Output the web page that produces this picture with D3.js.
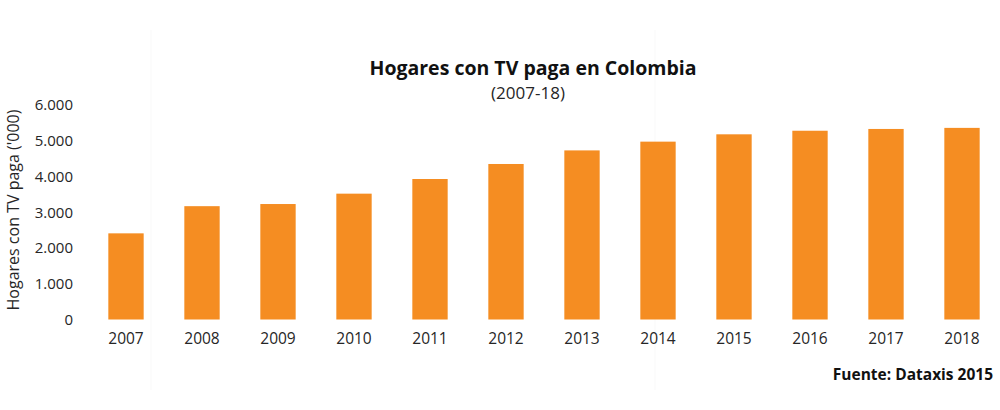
<!DOCTYPE html>
<html>
<head>
    <meta charset="utf-8">
    <style>
        body { margin: 0; background: #fff; }
        svg { display: block; }
        .tick text { fill: #262626; }
    </style>
    <script src="https://d3js.org/d3.v7.min.js"></script>
</head>
<body>
<svg width="1000" height="410"></svg>
<script>
    // data
    const years = ["2007", "2008", "2009", "2010", "2011", "2012", "2013", "2014", "2015", "2016", "2017", "2018"]
    const hogares = [2410, 3170, 3230, 3520, 3930, 4350, 4730, 4975, 5180, 5280, 5330, 5360]
    const yTicks = [0, 1000, 2000, 3000, 4000, 5000, 6000]

    const title = "Hogares con TV paga en Colombia"
    const subtitle = "(2007-18)"
    const yLabel = "Hogares con TV paga ('000)"
    const source = "Fuente: Dataxis 2015"

    let svg = d3.select("svg")
    let font = "'Open Sans', 'DejaVu Sans', sans-serif"

    // faint panel edges seen in the image
    svg.append("g")
        .selectAll("line")
        .data([151, 655])
        .join("line")
        .attr("x1", d => d).attr("x2", d => d)
        .attr("y1", 30).attr("y2", 390)
        .style("stroke", "#f9f9f9")

    let x = d3.scaleBand()
        .domain(years)
        .range([88, 1000])
        .paddingInner(0.535)
        .paddingOuter(0.2675)

    let y = d3.scaleLinear()
        .domain([0, 6000])
        .range([319.5, 105])

    let fmt = d => d3.format(",")(d).replace(/,/g, ".")

    // bars
    svg.append("g")
        .selectAll("rect")
        .data(hogares)
        .join("rect")
        .attr("x", (d, i) => x(years[i]))
        .attr("y", d => y(d))
        .attr("width", x.bandwidth())
        .attr("height", d => y(0) - y(d))
        .style("fill", "#f58d22")

    // y axis
    let yAxis = svg.append("g")
        .attr("transform", "translate(73,0)")
        .call(d3.axisLeft(y).tickValues(yTicks).tickFormat(fmt).tickSize(0).tickPadding(0))
    yAxis.select(".domain").remove()
    yAxis.selectAll("text")
        .style("font-family", font)
        .style("font-size", "15px")

    // x axis
    let xAxis = svg.append("g")
        .attr("transform", "translate(0," + y(0) + ")")
        .call(d3.axisBottom(x).tickSize(0).tickPadding(13))
    xAxis.select(".domain").remove()
    xAxis.selectAll("text")
        .style("font-family", font)
        .style("font-size", "15.5px")

    // axis title
    svg.append("text")
        .attr("transform", "translate(19,210) rotate(-90)")
        .attr("text-anchor", "middle")
        .style("font-family", font)
        .style("font-size", "16px")
        .style("fill", "#262626")
        .text(yLabel)

    // titles
    svg.append("text")
        .attr("x", 533).attr("y", 75)
        .attr("text-anchor", "middle")
        .style("font-family", font)
        .style("font-weight", "bold")
        .style("font-size", "19.5px")
        .style("fill", "#111")
        .text(title)

    svg.append("text")
        .attr("x", 528).attr("y", 99)
        .attr("text-anchor", "middle")
        .style("font-family", font)
        .style("font-size", "17px")
        .style("fill", "#262626")
        .text(subtitle)

    svg.append("text")
        .attr("x", 993).attr("y", 380)
        .attr("text-anchor", "end")
        .style("font-family", font)
        .style("font-weight", "bold")
        .style("font-size", "15.5px")
        .style("fill", "#111")
        .text(source)
</script>
</body>
</html>
